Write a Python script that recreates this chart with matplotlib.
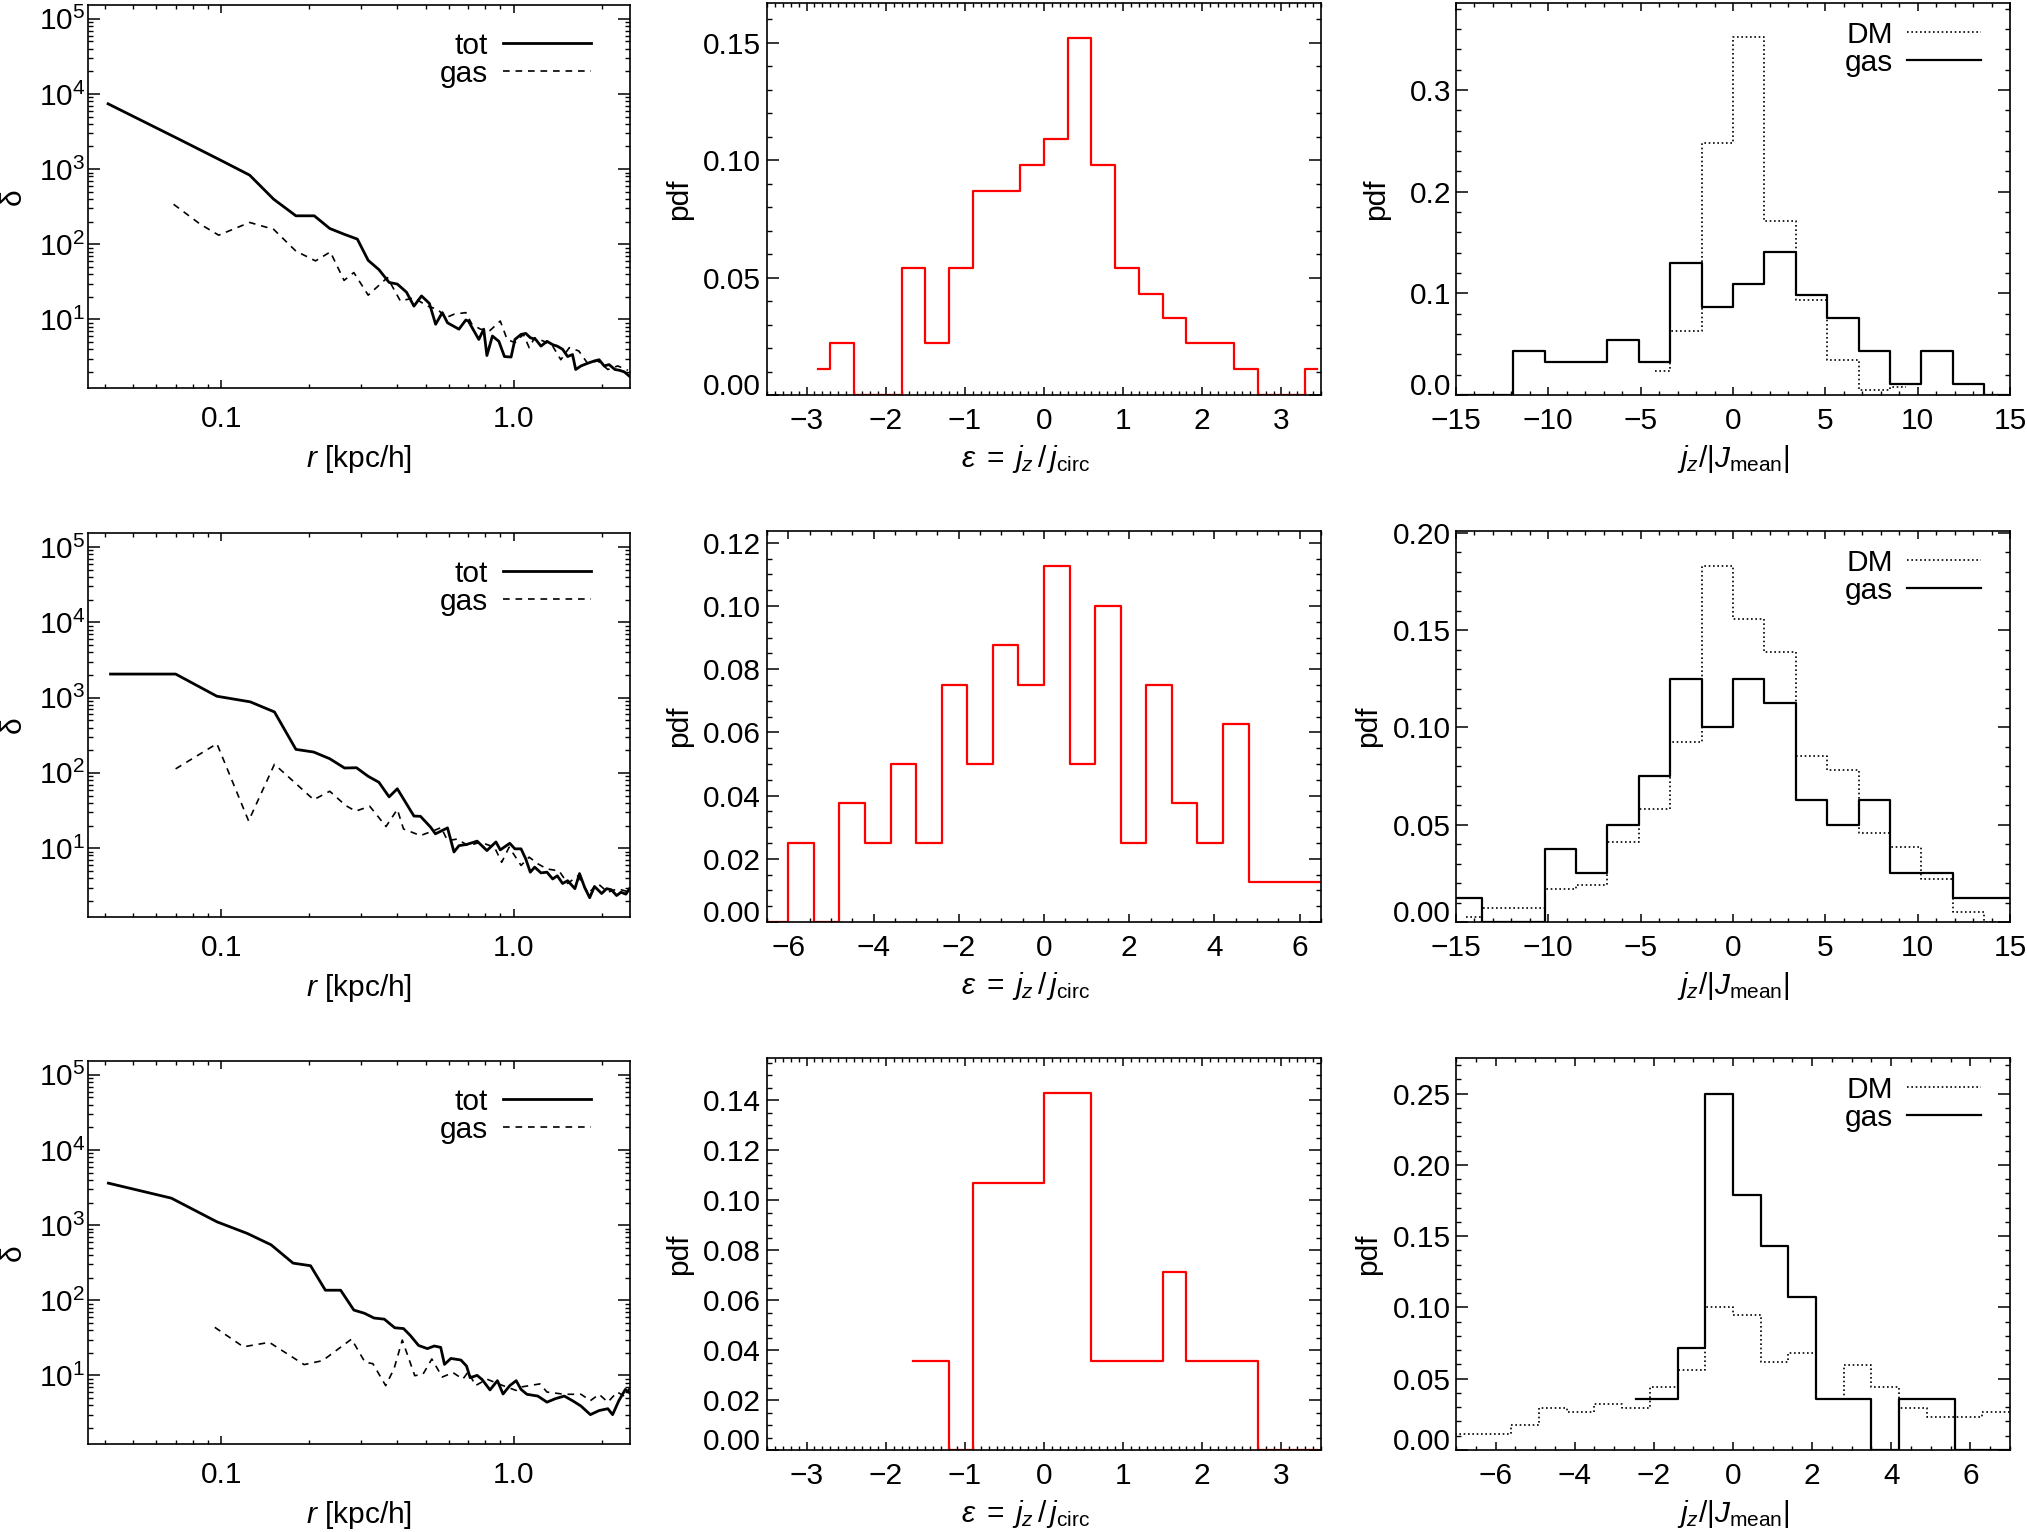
import matplotlib
matplotlib.use('Agg')
import matplotlib.pyplot as plt
from matplotlib.lines import Line2D
from matplotlib.ticker import (MultipleLocator, StrMethodFormatter, LogLocator,
                               NullFormatter, LogFormatterMathtext)

# ---------------- density profiles (left column) ----------------
r1_tot = [0.041, 0.072, 0.1, 0.125, 0.151, 0.180, 0.208, 0.235, 0.263, 0.292,
          0.318, 0.346, 0.375, 0.40, 0.43, 0.456, 0.484, 0.515, 0.541, 0.57,
          0.594, 0.65, 0.686, 0.70, 0.76, 0.79, 0.81, 0.846, 0.89, 0.93,
          0.98, 1.01, 1.06, 1.10, 1.14, 1.19, 1.24, 1.30, 1.36, 1.41,
          1.47, 1.53, 1.59, 1.63, 1.70, 1.79, 1.89, 1.96, 2.04, 2.12,
          2.22, 2.30, 2.39, 2.49]
d1_tot = [7400, 2480, 1300, 832, 398, 239, 239, 162, 136, 117,
          61, 46, 31, 29.5, 23, 15, 20.5, 16.3, 8.6, 12.3,
          9, 7.4, 9.8, 9.5, 5.4, 7.4, 3.3, 6, 5.1, 3.2,
          3.15, 5.4, 6.3, 6.5, 5.7, 5.4, 4.4, 5.1, 4.6, 4.4,
          4.0, 3.2, 3.4, 2.15, 2.4, 2.6, 2.8, 2.9, 2.4, 2.5,
          2.15, 2.1, 2.0, 1.75]
r1_gas = [0.0687, 0.0847, 0.098, 0.125, 0.151, 0.18, 0.21, 0.236, 0.263, 0.284,
          0.318, 0.37, 0.41, 0.456, 0.507, 0.55, 0.586, 0.625, 0.686, 0.72,
          0.77, 0.83, 0.90, 0.95, 1.01, 1.08, 1.13, 1.18, 1.27, 1.36,
          1.45, 1.55, 1.67, 1.79, 1.94, 2.10, 2.27, 2.46]
d1_gas = [340, 185, 132, 195, 158, 81, 60, 79, 33, 42,
          21, 36, 17.5, 19.4, 15, 13.6, 10.5, 11.7, 12.3, 8.6,
          7.4, 7.1, 9.5, 5.4, 4.9, 6.3, 4.2, 5.7, 5.1, 4.4,
          2.9, 4.2, 3.8, 2.6, 2.8, 2.15, 2.4, 2.1]

r2_tot = [0.0418, 0.0698, 0.0966, 0.1257, 0.152, 0.18, 0.207, 0.235, 0.264, 0.29,
          0.318, 0.346, 0.375, 0.40, 0.456, 0.48, 0.52, 0.54, 0.594, 0.625,
          0.65, 0.69, 0.75, 0.81, 0.87, 0.90, 0.97, 1.01, 1.06, 1.10,
          1.14, 1.18, 1.24, 1.30, 1.36, 1.41, 1.47, 1.53, 1.62, 1.68,
          1.75, 1.82, 1.89, 2.0, 2.08, 2.16, 2.25, 2.33, 2.42, 2.49]
d2_tot = [2050, 2050, 1041, 876, 644, 205, 189, 154, 116, 117,
          90, 75, 48, 61.5, 26.7, 26.5, 19, 15.5, 18.6, 8.9,
          10.8, 11.2, 12.4, 9.3, 12.1, 9.5, 11.6, 9.8, 9.8, 7.2,
          4.8, 5.6, 4.7, 4.8, 3.9, 4.3, 3.4, 3.7, 2.9, 4.6,
          3.0, 2.2, 3.1, 2.5, 2.9, 2.8, 2.35, 2.6, 2.45, 2.9]
r2_gas = [0.0698, 0.0966, 0.124, 0.152, 0.18, 0.207, 0.235, 0.266, 0.288, 0.322,
          0.366, 0.40, 0.42, 0.48, 0.535, 0.565, 0.594, 0.64, 0.70, 0.77,
          0.86, 0.91, 0.965, 1.06, 1.13, 1.21, 1.30, 1.43, 1.53, 1.66,
          1.80, 1.94, 2.10, 2.27, 2.49]
d2_gas = [113, 244, 23, 130, 72, 44, 57, 37, 31, 36,
          19.4, 32.7, 18, 14.7, 17.2, 18.8, 12.6, 13.2, 10.8, 12,
          10.3, 6.5, 10.3, 5.9, 7.6, 6.2, 5.3, 5.0, 3.4, 4.3,
          2.5, 3.4, 2.6, 2.9, 2.6]

r3_tot = [0.0411, 0.0675, 0.0966, 0.1228, 0.148, 0.176, 0.202, 0.227, 0.256, 0.284,
          0.309, 0.333, 0.361, 0.392, 0.42, 0.443, 0.473, 0.507, 0.535, 0.563,
          0.58, 0.61, 0.66, 0.69, 0.71, 0.75, 0.78, 0.83, 0.88, 0.92,
          0.97, 1.02, 1.06, 1.11, 1.21, 1.30, 1.39, 1.49, 1.59, 1.70,
          1.83, 1.96, 2.10, 2.18, 2.29, 2.41, 2.50]
d3_tot = [3620, 2285, 1107, 774, 547, 312, 288, 136, 136, 74,
          67, 58, 56, 43, 42, 34, 25, 22.7, 24.6, 23.6,
          14, 16.8, 16, 13.3, 9.3, 10, 8.8, 6.4, 8.5, 5.65,
          7.3, 8.5, 6.5, 5.6, 5.3, 4.4, 4.9, 5.3, 4.6, 3.9,
          3.0, 3.4, 3.6, 3.0, 4.6, 6.5, 5.8]
r3_gas = [0.095, 0.119, 0.146, 0.192, 0.222, 0.279, 0.31, 0.33, 0.365, 0.39,
          0.416, 0.459, 0.49, 0.525, 0.57, 0.62, 0.67, 0.70, 0.74, 0.81,
          0.92, 1.02, 1.06, 1.23, 1.30, 1.49, 1.70, 1.83, 1.96, 2.10,
          2.26, 2.41, 2.50]
d3_gas = [43.6, 24, 27.5, 13.9, 15.7, 30.4, 15, 14.3, 7.3, 12.3,
          29.5, 9.9, 10.4, 16.5, 9.5, 10.9, 8.9, 11.2, 7.3, 8.9,
          7.3, 6.3, 7, 7.7, 6, 5.6, 5.6, 4.6, 5.6, 4.4,
          6, 5.2, 7]

# ---------------- circularity pdfs (middle column) ----------------
eps1_c = [-2.85, -2.55, -2.25, -1.95, -1.65, -1.35, -1.05, -0.75, -0.45, -0.15,
          0.15, 0.45, 0.75, 1.05, 1.35, 1.65, 1.95, 2.25, 2.55, 2.85, 3.15, 3.45]
eps1_pdf = [0.011, 0.022, 0, 0, 0.054, 0.022, 0.054, 0.087, 0.087, 0.098,
            0.109, 0.152, 0.098, 0.054, 0.043, 0.033, 0.022, 0.022, 0.011, 0, 0, 0.011]

eps2_c = [-6.9, -6.3, -5.7, -5.1, -4.5, -3.9, -3.3, -2.7, -2.1, -1.5, -0.9, -0.3,
          0.3, 0.9, 1.5, 2.1, 2.7, 3.3, 3.9, 4.5, 5.1, 5.7, 6.3, 6.9]
eps2_pdf = [0, 0, 0.025, 0, 0.0375, 0.025, 0.05, 0.025, 0.075, 0.05, 0.0875, 0.075,
            0.1125, 0.05, 0.10, 0.025, 0.075, 0.0375, 0.025, 0.0625, 0.0125, 0.0125,
            0.0125, 0.0125]

eps3_c = [-1.65, -1.35, -1.05, -0.75, -0.45, -0.15, 0.15, 0.45, 0.75, 1.05,
          1.35, 1.65, 1.95, 2.25, 2.55, 2.85, 3.15, 3.45]
eps3_pdf = [0.0357, 0.0357, 0, 0.107, 0.107, 0.107, 0.143, 0.143, 0.0357, 0.0357,
            0.0357, 0.0714, 0.0357, 0.0357, 0.0357, 0, 0, 0]

# ---------------- j_z / |J_mean| pdfs (right column) ----------------
jz_c_wide = [-16.15, -14.45, -12.75, -11.05, -9.35, -7.65, -5.95, -4.25, -2.55, -0.85,
             0.85, 2.55, 4.25, 5.95, 7.65, 9.35, 11.05, 12.75, 14.45, 16.15]
gas1_pdf = [0, 0, 0, 0.0435, 0.0326, 0.0326, 0.0543, 0.0326, 0.130, 0.087,
            0.109, 0.141, 0.098, 0.076, 0.0435, 0.011, 0.0435, 0.011, 0, 0]
dm1_c = [-4.25, -2.55, -0.85, 0.85, 2.55, 4.25, 5.95, 7.65, 9.35]
dm1_pdf = [0.0237, 0.063, 0.248, 0.352, 0.171, 0.093, 0.0346, 0.005, 0.008]

gas2_pdf = [0.0125, 0.0125, 0, 0, 0.0375, 0.025, 0.05, 0.075, 0.125, 0.10,
            0.125, 0.1125, 0.0625, 0.05, 0.0625, 0.025, 0.025, 0.0125, 0.0125, 0.0125]
dm2_c = [-14.45, -12.75, -11.05, -9.35, -7.65, -5.95, -4.25, -2.55, -0.85,
         0.85, 2.55, 4.25, 5.95, 7.65, 9.35, 11.05, 12.75, 14.45]
dm2_pdf = [0.0024, 0.0072, 0.0072, 0.017, 0.019, 0.041, 0.058, 0.0926, 0.183,
           0.156, 0.139, 0.0853, 0.078, 0.046, 0.0388, 0.022, 0.005, 0]

gas3_c = [-2.45, -1.75, -1.05, -0.35, 0.35, 1.05, 1.75, 2.45, 3.15, 3.85,
          4.55, 5.25, 5.95, 6.65, 7.35]
gas3_pdf = [0.0357, 0.0357, 0.0714, 0.25, 0.1786, 0.143, 0.107, 0.0357, 0.0357, 0,
            0.0357, 0.0357, 0, 0, 0]
dm3_c = [-7.35, -6.65, -5.95, -5.25, -4.55, -3.85, -3.15, -2.45, -1.75, -1.05, -0.35,
         0.35, 1.05, 1.75, 2.45, 3.15, 3.85, 4.55, 5.25, 5.95, 6.65, 7.35]
dm3_pdf = [0.0115, 0.0115, 0.0115, 0.0173, 0.0295, 0.0267, 0.0325, 0.0295, 0.0442,
           0.056, 0.1004, 0.0946, 0.0618, 0.0681, 0.0356, 0.0595, 0.0442, 0.0295,
           0.0232, 0.0232, 0.0267, 0.0267]

# ---------------- style ----------------
FS = 21.5
plt.rcParams['font.family'] = ['Liberation Sans', 'DejaVu Sans']
plt.rcParams['mathtext.fontset'] = 'custom'
plt.rcParams['mathtext.rm'] = 'Liberation Sans'
plt.rcParams['mathtext.it'] = 'Liberation Sans:italic'
plt.rcParams['mathtext.bf'] = 'Liberation Sans:bold'
plt.rcParams['font.size'] = FS
plt.rcParams['axes.linewidth'] = 1.2
for ax_name in ('xtick', 'ytick'):
    plt.rcParams[ax_name + '.direction'] = 'in'
    plt.rcParams[ax_name + '.major.width'] = 1.1
    plt.rcParams[ax_name + '.minor.width'] = 1.0
    plt.rcParams[ax_name + '.labelsize'] = FS
plt.rcParams['xtick.top'] = True
plt.rcParams['ytick.right'] = True
plt.rcParams['xtick.major.size'] = 5.8
plt.rcParams['xtick.minor.size'] = 2.9
plt.rcParams['ytick.major.size'] = 8.3
plt.rcParams['ytick.minor.size'] = 3.6

DASHED = (0, (4, 3.5))
DOTTED = (0, (1, 1.6))

fig = plt.figure(figsize=(20.27, 15.32), dpi=100)

# panel rectangles in figure fractions
left_rows = [(0.74674, 0.2500), (0.40144, 0.25065), (0.05744, 0.2500)]
other_rows = [(0.74217, 0.25587), (0.39817, 0.25522), (0.05352, 0.25587)]
col_x = [(0.04341, 0.26739), (0.37839, 0.27331), (0.71830, 0.27331)]


def profile_panel(ax, r_tot, d_tot, r_gas, d_gas):
    ax.plot(r_tot, d_tot, color='k', lw=2.0)
    ax.plot(r_gas, d_gas, color='k', lw=1.2, linestyle=DASHED)
    ax.set_xscale('log')
    ax.set_yscale('log')
    ax.set_xlim(0.035, 2.5)
    ax.set_ylim(1.22, 1.53e5)
    ax.set_xticks([0.1, 1.0], ['0.1', '1.0'])
    ax.xaxis.set_minor_locator(LogLocator(base=10, subs=range(2, 10)))
    ax.xaxis.set_minor_formatter(NullFormatter())
    ax.yaxis.set_major_locator(LogLocator(base=10, numticks=10))
    ax.yaxis.set_major_formatter(LogFormatterMathtext())
    ax.yaxis.set_minor_locator(LogLocator(base=10, subs=range(2, 10), numticks=20))
    ax.yaxis.set_minor_formatter(NullFormatter())
    ax.tick_params(axis='x', which='both', pad=12.5)
    ax.tick_params(axis='y', which='both', pad=2)
    ax.set_xlabel(r'$r$ [kpc/h]', va='baseline')
    ax.xaxis.set_label_coords(0.5, -0.206)
    ax.set_ylabel('δ', va='center')
    ax.yaxis.set_label_coords(-0.138, 0.5)
    handles = [Line2D([], [], color='k', lw=2.0),
               Line2D([], [], color='k', lw=1.2, linestyle=DASHED)]
    ax.legend(handles, ['tot', 'gas'], loc='upper right', bbox_to_anchor=(0.928, 0.93),
              frameon=False, markerfirst=False, handlelength=2.95, handletextpad=0.5,
              borderpad=0, borderaxespad=0, labelspacing=0.0, fontsize=FS)


def eps_panel(ax, centers, pdf, xlim, ylim, xmaj, xmin, ymaj, ymin):
    ax.step(centers, pdf, where='mid', color='red', lw=1.6)
    ax.set_xlim(*xlim)
    ax.set_ylim(*ylim)
    ax.xaxis.set_major_locator(MultipleLocator(xmaj))
    ax.xaxis.set_minor_locator(MultipleLocator(xmin))
    ax.yaxis.set_major_locator(MultipleLocator(ymaj))
    ax.yaxis.set_minor_locator(MultipleLocator(ymin))
    ax.yaxis.set_major_formatter(StrMethodFormatter('{x:.2f}'))
    ax.tick_params(axis='x', which='both', pad=8.5)
    ax.tick_params(axis='y', which='both', pad=4.5)
    ax.set_xlabel(r'$\varepsilon\;=\;j_z\,/\,j_{\rm circ}$', va='baseline')
    ax.xaxis.set_label_coords(0.467, -0.184)
    ax.set_ylabel('pdf', va='center')
    ax.yaxis.set_label_coords(-0.158, 0.5)


def jz_panel(ax, gas_c, gas_pdf, dm_c, dm_pdf, xlim, ylim, xmaj, xmin, ymaj, ymin,
             yfmt, ylab_x):
    ax.step(dm_c, dm_pdf, where='mid', color='k', lw=1.2, linestyle=DOTTED)
    ax.step(gas_c, gas_pdf, where='mid', color='k', lw=1.6)
    ax.set_xlim(*xlim)
    ax.set_ylim(*ylim)
    ax.xaxis.set_major_locator(MultipleLocator(xmaj))
    ax.xaxis.set_minor_locator(MultipleLocator(xmin))
    ax.yaxis.set_major_locator(MultipleLocator(ymaj))
    ax.yaxis.set_minor_locator(MultipleLocator(ymin))
    ax.yaxis.set_major_formatter(StrMethodFormatter(yfmt))
    ax.tick_params(axis='x', which='both', pad=8.5)
    ax.tick_params(axis='y', which='both', pad=3.5)
    ax.set_xlabel(r'$j_z/|J_{\rm mean}|$', va='baseline')
    ax.xaxis.set_label_coords(0.5, -0.184)
    ax.set_ylabel('pdf', va='center')
    ax.yaxis.set_label_coords(ylab_x, 0.5)
    handles = [Line2D([], [], color='k', lw=1.2, linestyle=DOTTED),
               Line2D([], [], color='k', lw=1.6)]
    ax.legend(handles, ['DM', 'gas'], loc='upper right', bbox_to_anchor=(0.948, 0.955),
              frameon=False, markerfirst=False, handlelength=2.5, handletextpad=0.45,
              borderpad=0, borderaxespad=0, labelspacing=0.0, fontsize=FS)


profiles = [(r1_tot, d1_tot, r1_gas, d1_gas),
            (r2_tot, d2_tot, r2_gas, d2_gas),
            (r3_tot, d3_tot, r3_gas, d3_gas)]
eps_sets = [(eps1_c, eps1_pdf, (-3.5, 3.5), (0, 0.167), 1, 0.1, 0.05, 0.01),
            (eps2_c, eps2_pdf, (-6.5, 6.5), (0, 0.1237), 2, 0.5, 0.02, 0.005),
            (eps3_c, eps3_pdf, (-3.5, 3.5), (0, 0.157), 1, 0.1, 0.02, 0.005)]
jz_sets = [(jz_c_wide, gas1_pdf, dm1_c, dm1_pdf, (-15, 15), (0, 0.3855), 5, 1, 0.1, 0.02,
            '{x:.1f}', -0.145),
           (jz_c_wide, gas2_pdf, dm2_c, dm2_pdf, (-15, 15), (0, 0.201), 5, 1, 0.05, 0.01,
            '{x:.2f}', -0.158),
           (gas3_c, gas3_pdf, dm3_c, dm3_pdf, (-7, 7), (0, 0.275), 2, 0.5, 0.05, 0.01,
            '{x:.2f}', -0.158)]

pdf_axes = []
for i in range(3):
    y0, h = left_rows[i]
    ax = fig.add_axes([col_x[0][0], y0, col_x[0][1], h])
    profile_panel(ax, *profiles[i])

    y0, h = other_rows[i]
    ax = fig.add_axes([col_x[1][0], y0, col_x[1][1], h])
    eps_panel(ax, *eps_sets[i])
    pdf_axes.append(ax)

    ax = fig.add_axes([col_x[2][0], y0, col_x[2][1], h])
    jz_panel(ax, *jz_sets[i])
    pdf_axes.append(ax)

# the zero label of the pdf axes sits just above the bottom axis, as in the original
fig.canvas.draw()
for ax in pdf_axes:
    for tick in ax.yaxis.get_major_ticks():
        if abs(tick.get_loc()) < 1e-9:
            tick.label1.set_verticalalignment('baseline')

fig.savefig('out.png', dpi=100)
